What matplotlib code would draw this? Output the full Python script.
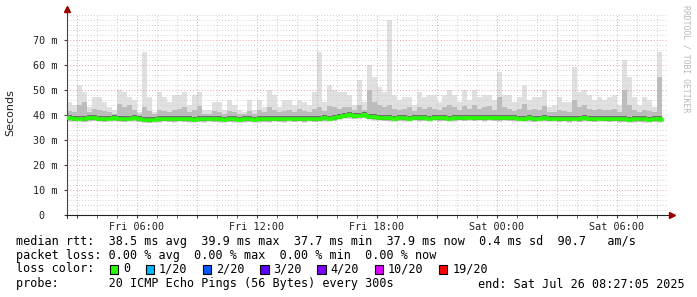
import numpy as np
import pandas as pd
import matplotlib
matplotlib.use('Agg')
import matplotlib.pyplot as plt
import matplotlib.dates as mdates
from matplotlib.patches import Rectangle

# 15 minute bins, Fri 25 Jul 02:30 -> Sat 26 Jul 08:30
times = pd.date_range('2025-07-25 02:30', periods=120, freq='15min')

median_ms = [
    38.6, 38.4, 38.5, 38.3, 38.6, 38.7, 38.4, 38.3, 38.5, 38.6,
    38.4, 38.3, 38.5, 38.6, 38.3, 38.0, 37.9, 38.1, 38.2, 38.4,
    38.3, 38.2, 38.4, 38.3, 38.2, 38.1, 38.3, 38.2, 38.4, 38.3,
    38.2, 38.1, 38.3, 38.2, 38.1, 38.2, 38.3, 38.1, 38.2, 38.3,
    38.2, 38.4, 38.3, 38.2, 38.5, 38.3, 38.4, 38.2, 38.5, 38.3,
    38.4, 38.6, 38.5, 38.7, 39.2, 39.6, 39.8, 39.5, 39.7, 39.9,
    39.3, 39.0, 38.8, 38.7, 38.6, 38.5, 38.7, 38.6, 38.5, 38.8,
    38.6, 38.7, 38.5, 38.8, 38.6, 38.7, 38.5, 38.6, 38.8, 38.7,
    38.9, 38.7, 38.8, 38.6, 38.9, 38.7, 38.6, 38.8, 38.7, 38.6,
    38.5, 38.4, 38.6, 38.3, 38.5, 38.6, 38.4, 38.5, 38.3, 38.4,
    38.2, 38.5, 38.3, 38.6, 38.4, 38.3, 38.5, 38.4, 38.3, 38.4,
    38.2, 38.3, 38.1, 38.2, 38.3, 38.2, 38.1, 38.3, 38.2, 37.9,
]

# highest ping of the 20 in each bin
max_ms = [
    45, 44, 52, 49, 43, 47, 47, 45, 43, 42,
    50, 49, 47, 46, 41, 65, 47, 41, 49, 47,
    45, 48, 48, 49, 44, 48, 49, 42, 42, 45,
    45, 42, 46, 44, 42, 41, 46, 42, 46, 43,
    50, 48, 43, 46, 46, 44, 46, 45, 44, 49,
    65, 45, 52, 50, 49, 49, 48, 44, 54, 45,
    60, 55, 51, 49, 78, 48, 46, 47, 47, 44,
    49, 47, 48, 48, 45, 48, 50, 48, 45, 50,
    46, 50, 47, 48, 48, 46, 57, 48, 48, 45,
    47, 52, 46, 47, 47, 50, 43, 44, 47, 45,
    45, 59, 49, 50, 48, 46, 47, 46, 47, 48,
    44, 62, 55, 47, 44, 47, 46, 43, 65, 52,
]

# upper edge of the darker smoke
upper_ms = [
    41.5, 41.0, 44.0, 45.0, 41.0, 42.5, 42.0, 41.5, 41.0, 40.5,
    44.5, 43.0, 44.0, 42.0, 40.5, 43.0, 41.5, 40.5, 42.0, 41.5,
    41.0, 42.0, 42.5, 43.0, 41.0, 42.0, 43.5, 40.5, 40.5, 41.5,
    41.0, 40.5, 41.5, 41.0, 40.5, 40.5, 41.5, 40.5, 42.0, 41.0,
    43.0, 42.0, 41.0, 41.5, 42.0, 41.0, 42.5, 41.5, 41.0, 42.5,
    43.0, 41.5, 43.5, 43.0, 42.5, 43.0, 43.0, 42.0, 44.0, 42.0,
    50.0, 45.0, 44.0, 43.0, 44.0, 42.5, 42.0, 42.5, 43.0, 41.5,
    43.0, 42.5, 43.0, 42.5, 42.0, 43.0, 44.0, 43.0, 42.0, 43.5,
    42.5, 44.0, 42.5, 43.0, 43.5, 42.0, 47.0, 43.0, 42.5, 41.5,
    42.5, 44.5, 42.0, 42.5, 42.0, 43.5, 41.0, 41.0, 42.0, 41.5,
    41.0, 46.0, 43.0, 44.0, 42.5, 42.0, 42.5, 42.0, 42.0, 42.5,
    41.0, 50.0, 44.0, 42.0, 41.0, 42.0, 41.5, 41.0, 55.0, 45.0,
]

loss_labels = ['0', '1/20', '2/20', '3/20', '4/20', '10/20', '19/20']
loss_colors = ['#26ff00', '#00b8ff', '#0059ff', '#5e00ff', '#7e00ff', '#dd00ff', '#ff0000']

W, H = 697, 297
fig = plt.figure(figsize=(W / 100, H / 100), dpi=100)
fig.patch.set_facecolor('white')
ax = fig.add_axes([67 / W, 82 / H, 600 / W, 200 / H])

med = np.array(median_ms)
mx = np.array(max_ms)
up = np.array(upper_ms)

# smoke, light to dark
ax.fill_between(times, med - 1.3, mx, step='post', color='#e0e0e0', lw=0, zorder=1)
ax.fill_between(times, med - 1.0, up, step='post', color='#bcbcbc', lw=0, zorder=2)
ax.fill_between(times, med - 0.7, med + 1.2, step='post', color='#707070', lw=0, zorder=3)
ax.step(times, med, where='post', color='#26ff00', lw=2.6, zorder=5)

x0 = pd.Timestamp('2025-07-25 02:30')
x1 = pd.Timestamp('2025-07-26 08:30')
ax.set_xlim(x0, x1)
ax.set_ylim(0, 80)

# grid
ax.xaxis.set_major_locator(mdates.HourLocator(byhour=range(0, 24, 3)))
ax.xaxis.set_minor_locator(mdates.HourLocator())
ax.set_yticks(np.arange(0, 80, 10))
ax.set_yticks(np.arange(0, 81, 2), minor=True)
ax.grid(which='minor', color='#cfcfcf', lw=0.7, ls=(0, (1, 2)), zorder=6)
ax.grid(which='major', color='#e8a0a0', lw=0.7, ls=(0, (1, 2)), zorder=7)

# tick labels: only every 6 hours on x
label_times = pd.date_range('2025-07-25 06:00', periods=5, freq='6h')
for t in label_times:
    ax.text(t, -2.6, t.strftime('%a %H:%M'), ha='center', va='top',
            family='DejaVu Sans Mono', fontsize=7.3, color='#222222')
ax.set_xticklabels([])
ax.tick_params(axis='x', which='both', length=2, color='#444444')
ax.tick_params(axis='y', which='minor', length=0)
ax.tick_params(axis='y', which='major', length=2, color='#444444', pad=5)
ax.set_yticklabels(['0  '] + ['%d m' % v for v in range(10, 80, 10)],
                   family='DejaVu Sans Mono', fontsize=7.3, color='#222222')

for s in ['top', 'right']:
    ax.spines[s].set_visible(False)
ax.spines['left'].set_color('#444444')
ax.spines['bottom'].set_color('#222222')
ax.spines['bottom'].set_bounds(mdates.date2num(x0) - 0.002, mdates.date2num(x1) + 0.0035)
ax.spines['left'].set_bounds(-1, 82.5)
ax.plot([1.008], [0], marker='>', ms=4, color='#990000', transform=ax.transAxes, clip_on=False, zorder=10)
ax.plot([0], [1.03], marker='^', ms=4, color='#990000', transform=ax.transAxes, clip_on=False, zorder=10)

fig.text(10 / W, 1 - 113 / H, 'Seconds', rotation=90, ha='center', va='center',
         family='DejaVu Sans', fontsize=8, color='#222222')
fig.text(686 / W, 1 - 5 / H, 'RRDTOOL / TOBI OETIKER', rotation=270, ha='center', va='top',
         family='DejaVu Sans Mono', fontsize=5.9, color='#b8b8b8')

# legend block
mono = dict(family='DejaVu Sans Mono', fontsize=8.5, color='#000000', va='center', ha='left')
cw = 7.15
lx = 16
rows_y = [241, 255, 269, 284]
fig.text(lx / W, 1 - rows_y[0] / H,
         'median rtt:  38.5 ms avg  39.9 ms max  37.7 ms min  37.9 ms now  0.4 ms sd  90.7   am/s', **mono)
fig.text(lx / W, 1 - rows_y[1] / H,
         'packet loss: 0.00 % avg  0.00 % max  0.00 % min  0.00 % now', **mono)
fig.text(lx / W, 1 - rows_y[2] / H, 'loss color:', **mono)
col = 13
for lab, c in zip(loss_labels, loss_colors):
    sx = lx + col * cw + 1
    fig.patches.append(Rectangle((sx / W, 1 - (rows_y[2] + 4.5) / H), 8.5 / W, 8.5 / H,
                                 transform=fig.transFigure, facecolor=c, edgecolor='black', lw=0.8))
    fig.text((lx + (col + 2) * cw) / W, 1 - rows_y[2] / H, lab, **mono)
    col += 2 + len(lab) + 2
fig.text(lx / W, 1 - rows_y[3] / H,
         'probe:       20 ICMP Echo Pings (56 Bytes) every 300s', **mono)
fig.text(478 / W, 1 - rows_y[3] / H, 'end: Sat Jul 26 08:27:05 2025', **mono)

fig.savefig('out.png', dpi=100, facecolor='white')
